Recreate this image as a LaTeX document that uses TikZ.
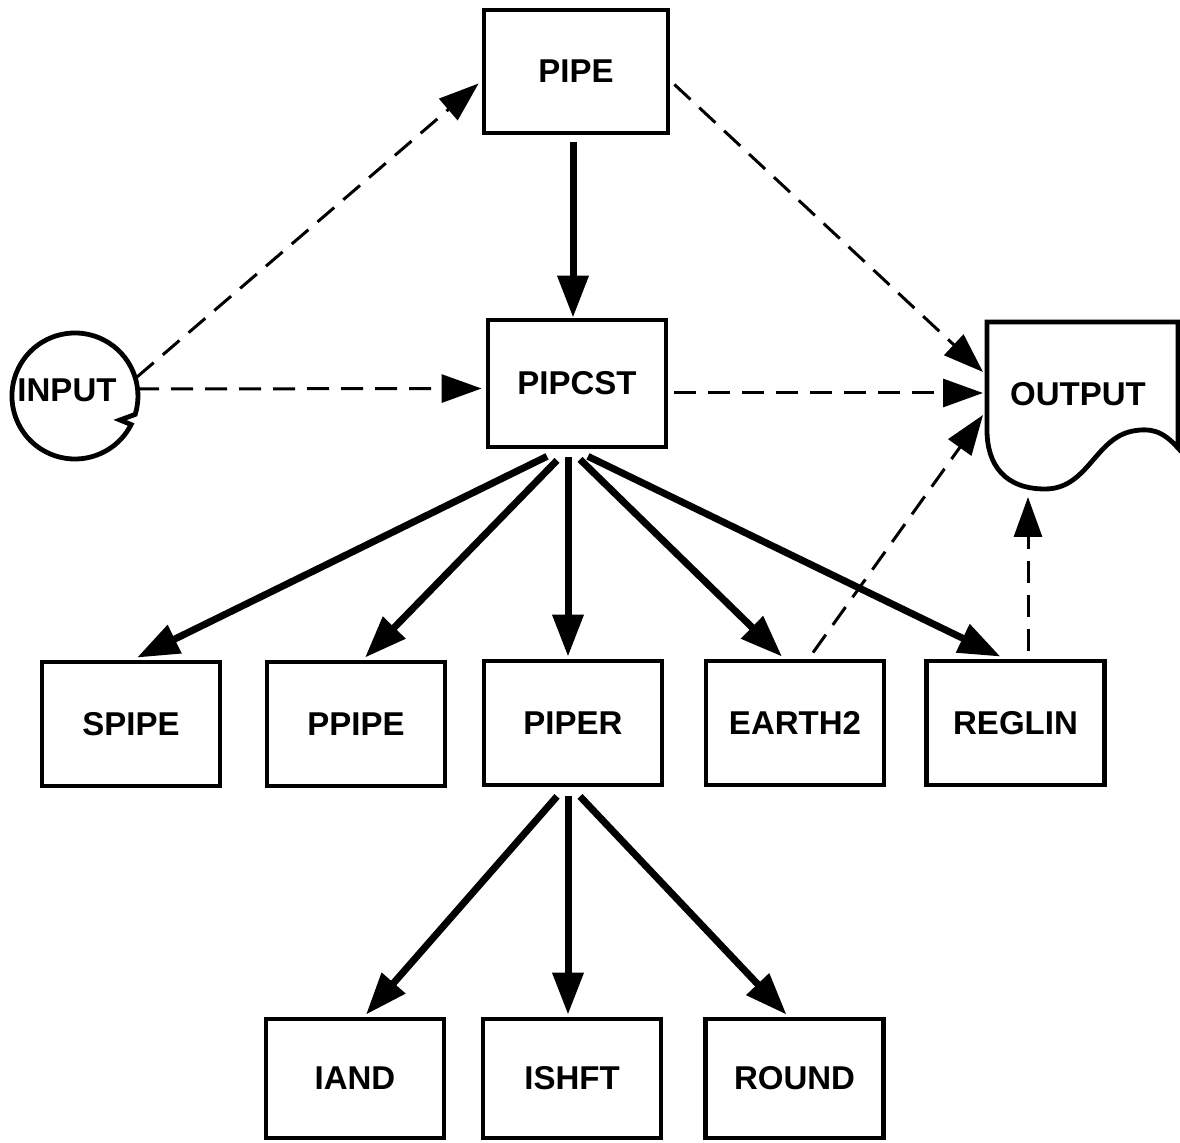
\documentclass[tikz,border=0pt]{standalone}
\usepackage{fontspec}
\setmainfont{Liberation Sans}
\usetikzlibrary{arrows.meta,calc}
\begin{document}
\begin{tikzpicture}[x=0.5pt,y=-0.5pt,
  lbl/.style={font=\fontsize{16.5}{18}\selectfont\bfseries, text=black},
  box/.style={lbl, draw, line width=2.4pt, minimum width=89pt, minimum height=62pt, inner sep=0pt},
  lowbox/.style={box, minimum height=59.5pt},
  solidarrow/.style={line width=3.5pt, -{Triangle[length=21pt,width=15pt]}},
  dasharrow/.style={line width=1.5pt, dash pattern=on 11pt off 6pt, -{Triangle[length=20pt,width=14pt]}},
  outline/.style={line width=2.4pt}]
\useasboundingbox (0,0) rectangle (1180,1143);
% boxes
\node[box, minimum width=92pt, minimum height=61.5pt] (pipe) at (576,71.5) {PIPE};
\node[box, minimum height=63.5pt] (pipcst) at (577,383.5) {PIPCST};
\node[box] (spipe) at (131,724) {SPIPE};
\node[box] (ppipe) at (356,724) {PPIPE};
\node[box] (piper) at (573,723) {PIPER};
\node[box] (earth) at (795,723) {EARTH2};
\node[box] (reglin) at (1015.5,723) {REGLIN};
\node[lowbox] (iand) at (355,1078.5) {IAND};
\node[lowbox] (ishft) at (572,1078.5) {ISHFT};
\node[lowbox] (round) at (794.5,1078.5) {ROUND};
% input (circle with notch)
\node[lbl] (input) at (67,390) {INPUT};
\coordinate (inc) at (75,396);
\draw[outline, line join=miter] ($(inc)+(56.1,28.6)$) arc[start angle=27, end angle=377, radius=63]
  -- ($(inc)+(45,24)$) -- cycle;
% output (document shape)
\node[lbl] (output) at (1078,394) {OUTPUT};
\draw[outline] (987,322) -- (1178,322) -- (1178,448)
  .. controls (1162,430) and (1150,428) .. (1133,431)
  .. controls (1095,438) and (1088,489) .. (1045,489)
  .. controls (1005,489) and (987,465) .. (987,430) -- cycle;
% solid arrows
\draw[solidarrow] ($(pipe.south)+(-3,7)$) -- ($(pipcst.north)+(-4,0)$);
\draw[solidarrow] ($(pipcst.south)+(-30,7)$) -- ($(spipe.north)+(6,-2)$);
\draw[solidarrow] ($(pipcst.south)+(-20,11)$) -- ($(ppipe.north)+(9,-2)$);
\draw[solidarrow] ($(pipcst.south)+(-9,8)$) -- ($(piper.north)+(-5,-2)$);
\draw[solidarrow] ($(pipcst.south)+(3,10)$) -- ($(earth.north)+(-13,-2)$);
\draw[solidarrow] ($(pipcst.south)+(11,7)$) -- ($(reglin.north)+(-15,-2)$);
\draw[solidarrow] ($(piper.south)+(-16,9)$) -- ($(iand.north)+(11,-2)$);
\draw[solidarrow] ($(piper.south)+(-5,9)$) -- ($(ishft.north)+(-4,-2)$);
\draw[solidarrow] ($(piper.south)+(7,9)$) -- ($(round.north)+(-8,-2)$);
% dashed arrows
\draw[dasharrow] ($(inc)+(62,-19)$) -- ($(pipe.west)+(-3,12)$);
\draw[dasharrow] ($(inc)+(62,-7)$) -- ($(pipcst.west)+(-4,5)$);
\draw[dasharrow] ($(pipe.east)+(4,13)$) -- ($(output)+(-95,-22)$);
\draw[dasharrow] ($(pipcst.east)+(6,9.5)$) -- ($(output)+(-95,-1)$);
\draw[dasharrow] ($(earth.north)+(18,-6)$) -- ($(output)+(-95,21)$);
\draw[dasharrow] ($(reglin.north)+(12.5,-8)$) -- ($(output)+(-50,103)$);
\end{tikzpicture}
\end{document}
